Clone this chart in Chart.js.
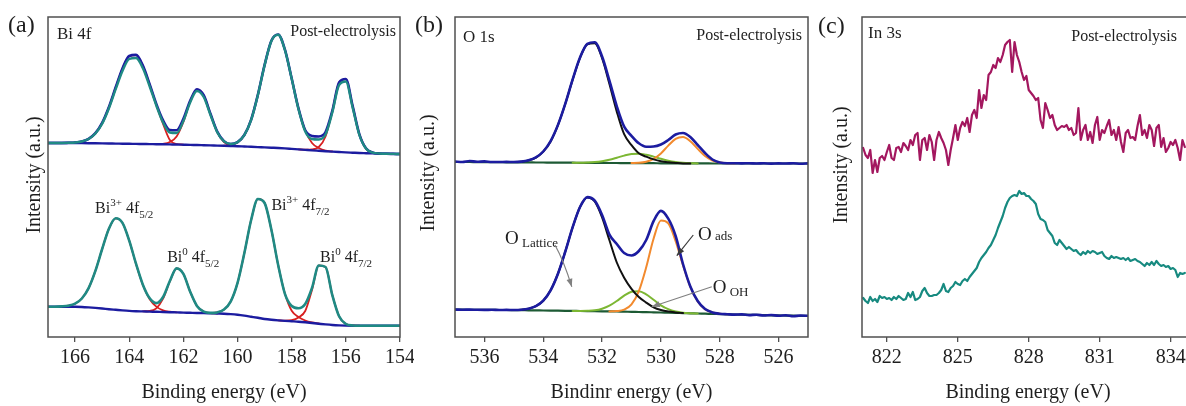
<!DOCTYPE html>
<html>
<head>
<meta charset="utf-8">
<script src="https://cdn.jsdelivr.net/npm/chart.js@4.4.0/dist/chart.umd.min.js"></script>
<style>
  html, body { margin: 0; padding: 0; background: #fff; }
  #wrap { position: relative; width: 1186px; height: 406px; overflow: hidden; }
  canvas { position: absolute; top: 0; }
</style>
</head>
<body>
<div id="wrap">
  <canvas id="chartA" width="414" height="406" style="left:0"></canvas>
  <canvas id="chartB" width="401" height="406" style="left:414px"></canvas>
  <canvas id="chartC" width="371" height="406" style="left:815px"></canvas>
</div>
<script>
// grelha de energias (eixo x de cada painel)
function grid(from, to, step) {
    const n = Math.round(Math.abs(to - from) / step);
    const dir = to < from ? -1 : 1;
    const out = [];
    for (let i = 0; i <= n; i++) out.push(+(from + dir * i * step).toFixed(2));
    return out;
}

// ---------- (a) Bi 4f ----------
const bi4fEnergy = grid(167, 154, 0.25);
const bi4fTicks = [166, 164, 162, 160, 158, 156, 154];

const bi4fTopFit = [194, 194, 194, 194.2, 194.5, 195.5, 198.1, 203.8, 214.1, 230, 249.7, 268.6, 281, 282.1, 271.6,
    253.1, 233.1, 216.6, 207, 206.8, 218.1, 236.2, 247.8, 241.8, 223.2, 205.4, 195.9, 193, 194.9, 202,
    217.1, 242.1, 272.1, 296.3, 302.5, 287.3, 258.5, 228.6, 206.7, 201, 200.5, 205, 226.1, 254.5, 258,
    231.1, 202.7, 188.4, 184.3, 183.5, 183.2, 183.1, 183];
const bi4fTopRaw = [194, 194, 194, 194.2, 194.5, 195.5, 198, 203.5, 213.3, 228.8, 247.8, 266, 278, 279, 269,
    251, 231.5, 214.5, 204.5, 204, 216, 234.5, 246, 240, 222, 204.8, 195.7, 193, 194.8, 201.8,
    216.8, 241.8, 271.8, 296, 302.2, 287, 258.2, 228, 205.5, 198, 197.5, 202.5, 224.5, 252, 255.5,
    229.5, 202, 188.2, 184.3, 183.5, 183.2, 183.1, 183];
const bi4fTopBg = [194, 194, 194, 194, 194, 193.9, 193.8, 193.7, 193.6, 193.5, 193.4, 193.3, 193.2, 193.1, 193,
    192.9, 192.8, 192.7, 192.6, 192.5, 192.3, 192.1, 192, 191.8, 191.6, 191.4, 191.2, 191, 190.8, 190.5,
    190.2, 189.9, 189.6, 189.3, 189, 188.6, 188.1, 187.6, 187.1, 186.6, 186.2, 185.8, 185.4, 185, 184.6,
    184.3, 184, 183.8, 183.6, 183.4, 183.2, 183.1, 183];
// componentes (valor inicial de energia + valores)
const bi4fTopComp1 = [194.5, 195.5, 198, 203.7, 214, 229.9, 249.6, 268.5, 280.8, 281.9, 271.4, 252.8, 232, 213, 197, 193, 192.4];
const bi4fTopComp2 = [192.8, 193.2, 195, 200.5, 215, 235.5, 247.6, 241.6, 223, 205, 195, 191.5, 190.8];
const bi4fTopComp3 = [191.3, 192, 194.5, 201.8, 217, 242, 272, 296.2, 302.4, 287.2, 258.4, 228.5, 206.5, 194, 189, 186.3, 185.5];
const bi4fTopComp4 = [187.6, 187.3, 187.5, 190, 200.5, 226, 254.3, 257.8, 231, 202.7, 188.4, 184.3, 183.5];
const bi4fTopCompStart = [166, 163, 160.5, 157.75];

const bi4fBotFit = [30.3, 30.3, 30.6, 31.3, 33.3, 38.5, 48.9, 66.1, 88, 108.3, 118.7, 114.1, 96.4, 73.3, 52.6,
    38.9, 33.9, 40, 56, 68.6, 63.1, 45.3, 31.1, 25.4, 24.1, 24.6, 27.4, 35.7, 54.1, 83.7,
    116.7, 138, 134, 107.2, 72, 43.2, 31, 28.8, 33, 49, 71.5, 70, 41.9, 20.7, 13,
    11.5, 11.3, 11.3, 11.3, 11.3, 11.3, 11.3, 11.3];
const bi4fBotBg = [30.3, 30.3, 30.3, 30.3, 30.2, 30, 29.6, 29.1, 28.5, 27.8, 27.2, 26.6, 26.1, 25.8, 25.6,
    25.4, 25.2, 25, 24.8, 24.6, 24.4, 24.2, 24, 23.9, 23.7, 23.5, 23.3, 22.9, 22.3, 21.4,
    20.3, 19.2, 18, 17.2, 16.6, 16.1, 15.7, 15.3, 14.7, 14, 13.3, 12.6, 12, 11.6, 11.4,
    11.3, 11.3, 11.3, 11.3, 11.3, 11.3, 11.3, 11.3];
const bi4fBotComp1 = [30.6, 31.3, 33.3, 38.5, 48.9, 66.1, 88, 108.3, 118.7, 114.1, 96.4, 73, 52.2, 38, 30.4, 26.7, 25.3, 24.7];
const bi4fBotComp2 = [25.7, 26, 28.7, 38.3, 55.5, 68.5, 63.1, 45.3, 31.1, 25.4, 23.9, 23.5];
const bi4fBotComp3 = [23.9, 24.6, 27.4, 35.7, 54.1, 83.7, 116.7, 138, 134, 107.2, 72, 43.2, 26.2, 20, 16.5, 14.6, 13.5];
const bi4fBotComp4 = [16.6, 16.3, 16.8, 19.5, 26, 47, 71.5, 70, 41.9, 20.7, 13, 11.5, 11.3];
const bi4fBotCompStart = [166.5, 163.5, 161, 158.5];

// ---------- (b) O 1s ----------
const o1sEnergy = grid(537, 525, 0.25);
const o1sTicks = [536, 534, 532, 530, 528, 526];

const o1sTopFit = [175.5, 175, 176, 175.2, 175.6, 175, 175, 175.1, 175, 175.4, 176.7, 179.6, 185.5, 195.9, 212.1,
    233.4, 257.6, 279.5, 293.1, 294.7, 280.5, 256.3, 230.7, 210.3, 201.2, 193.7, 190.3, 190.5, 192.5, 197,
    202.5, 204, 200, 192, 184, 177.5, 174.5, 173.8, 173.8, 173.6, 173.8, 173.5, 173.7, 173.4, 173.6,
    173.5, 173.7, 173.2, 173.6];
const o1sTopBg = [175, 175, 175, 174.9, 174.9, 174.8, 174.8, 174.7, 174.7, 174.6, 174.6, 174.5, 174.5, 174.4, 174.4,
    174.3, 174.3, 174.2, 174.2, 174.1, 174.1, 174, 174, 173.9, 173.9, 173.8, 173.8, 173.8, 173.7, 173.7,
    173.7, 173.6, 173.6, 173.6, 173.6, 173.5, 173.5, 173.5, 173.5, 173.5, 173.5, 173.5, 173.5, 173.5, 173.5,
    173.5, 173.5, 173.5, 173.5];
const o1sTopLattice = [175, 175, 175, 175.3, 176.6, 179.4, 185.3, 195.6, 211.9, 233.2, 257.4, 279.2, 292.8, 293.7,
    278.8, 253, 225.4, 202.8, 191.9, 183.8, 180.3, 177.6, 175.7, 174.7, 174.1, 173.6, 173.6];
const o1sTopOH = [174.3, 174.3, 174.5, 174.9, 175.8, 177.3, 179.3, 181.4, 183, 183.3, 182.3, 180.4, 178.2, 176.3, 175, 174.2, 173.8, 173.6];
const o1sTopAds = [174, 174.2, 175.3, 178.2, 183.6, 191.4, 198.2, 200, 195.7, 188.1, 181, 176.5, 174.5, 173.8, 173.6];

const o1sBotFit = [27.5, 27.3, 27.4, 27.2, 27.1, 27.2, 27, 27.1, 27.05, 27.3, 28.3, 30.8, 36.3, 46.7, 63.3,
    85.5, 109.8, 130, 139.9, 136.4, 122.1, 102.4, 93, 84, 81.5, 86, 97, 115.8, 126.1, 118.3,
    101, 73, 50.5, 36, 28, 24.6, 23.3, 22.8, 22.4, 22.6, 21.9, 22.3, 21.5, 22, 21.2,
    21.8, 20.8, 21.5, 21.2];
const o1sBotBg = [27.3, 27.3, 27.2, 27.2, 27.1, 27.1, 27, 27, 26.9, 26.8, 26.7, 26.6, 26.5, 26.4, 26.3,
    26.2, 26.1, 26, 25.9, 25.8, 25.7, 25.6, 25.5, 25.3, 25.2, 25, 24.9, 24.7, 24.5, 24.3,
    24.1, 23.9, 23.7, 23.5, 23.3, 23.1, 22.9, 22.7, 22.5, 22.4, 22.2, 22.1, 21.9, 21.7, 21.6,
    21.4, 21.3, 21.1, 21];
const o1sBotLattice = [27, 27, 27.05, 27.3, 28.3, 30.8, 36.3, 46.7, 63.3, 85.5, 109.8, 130, 139.6, 135.5, 119.5,
    96.7, 74.5, 59.3, 48.2, 40, 34.4, 29.7, 27, 25.5, 24.6, 23.9];
const o1sBotOH = [26.1, 26.05, 26.2, 26.7, 28.3, 31.3, 36, 41.3, 45.3, 45.8, 42.6, 37.2, 31.7, 27.8, 25.5, 24.35, 23.8, 23.5];
const o1sBotAds = [25.6, 25.9, 27.3, 32.6, 45.9, 69.7, 98.3, 116.4, 113.6, 95.8, 71.7, 50.1, 35.6, 27.9, 24.6, 23.3, 22.7];
// energia inicial: [lattice, OH, ads] (topo e base)
const o1sTopStart = [535.5, 533, 531];
const o1sBotStart = [535.5, 533, 531.75];

// ---------- (c) In 3s ----------
const in3sEnergy = grid(821, 834.6, 0.1);
const in3sTicks = [822, 825, 828, 831, 834];

const in3sPost = [189, 182, 179, 187, 164, 177, 165, 179, 181, 177,
    185, 192, 179, 177, 189, 190, 185, 194, 191, 187,
    197, 192, 202, 204, 177, 197, 199, 187, 202, 195,
    177, 197, 205, 199, 194, 187, 172, 187, 199, 212,
    197, 209, 215, 211, 219, 205, 222, 227, 219, 247,
    229, 242, 237, 262, 265, 272, 269, 279, 275, 282,
    292, 295, 297, 265, 295, 282, 275, 265, 257, 261,
    247, 244, 241, 237, 239, 217, 209, 234, 227, 219,
    222, 212, 207, 209, 211, 210, 212, 207, 209, 202,
    204, 229, 197, 207, 212, 197, 205, 194, 212, 220,
    197, 207, 204, 211, 217, 202, 207, 197, 210, 195,
    185, 204, 207, 199, 200, 197, 211, 222, 202, 207,
    199, 212, 207, 191, 209, 212, 190, 199, 185, 189,
    195, 192, 197, 189, 177, 197, 190];
const in3sPre = [39, 36, 34, 40, 36, 38, 35, 41, 39, 40,
    38, 39, 37, 40, 38, 41, 39, 37, 38, 44,
    40, 45, 37, 38, 40, 46, 49, 44, 41, 41,
    42, 42, 44, 47, 53, 46, 45, 49, 51, 55,
    53, 52, 56, 58, 56, 60, 63, 66, 69, 75,
    79, 82, 85, 89, 92, 97, 102, 109, 115, 121,
    129, 135, 139, 141, 142, 141, 146, 143, 144, 141,
    141, 138, 136, 133, 123, 118, 117, 115, 107, 104,
    101, 94, 92, 97, 94, 91, 88, 90, 88, 86,
    87, 84, 82, 85, 83, 86, 84, 86, 85, 83,
    84, 85, 81, 79, 78, 81, 79, 80, 79, 78,
    79, 77, 79, 76, 77, 78, 76, 75, 73, 71,
    74, 72, 75, 72, 76, 73, 71, 72, 70, 71,
    68, 69, 67, 60, 64, 63, 64];

// ---------- estilo ----------
const SERIF = '"Liberation Serif", "Times New Roman", serif';
const INK = '#1e1e1e';
const NAVY = '#1c1ca0';
const TEAL = '#1f8a84';
const RED = '#d81f1f';
const BLACK = '#111111';
const ORANGE = '#f28a2e';
const LIME = '#7cb733';
const DKGREEN = '#1d5a34';
const PLUM = '#a3175f';
const TEAL_C = '#178a80';

Chart.defaults.font.family = SERIF;

const pts = (xs, ys) => ys.map((y, i) => ({ x: xs[i], y }));
const seg = (xs, start, ys) => { const k = xs.indexOf(start); return ys.map((y, i) => ({ x: xs[k + i], y })); };

function line(data, color, width, smooth = true) {
    return {
        data, borderColor: color, borderWidth: width, pointRadius: 0, fill: false,
        cubicInterpolationMode: smooth ? 'monotone' : 'default', tension: 0,
        borderJoinStyle: 'round', borderCapStyle: 'round'
    };
}

// helpers de desenho
function P(chart, e, v) { return [chart.scales.x.getPixelForValue(e), chart.scales.y.getPixelForValue(v)]; }
function label(ctx, s, x, y, size, align = 'left') {
    ctx.font = size + 'px ' + SERIF;
    ctx.textAlign = align;
    ctx.fillText(s, x, y);
}
function rich(ctx, x, y, parts) {
    let cx = x;
    ctx.textAlign = 'left';
    parts.forEach(([t, size, dy]) => {
        ctx.font = size + 'px ' + SERIF;
        ctx.fillText(t, cx, y + (dy || 0));
        cx += ctx.measureText(t).width;
    });
}
function vtitle(ctx, s, x, y) {
    ctx.save();
    ctx.translate(x, y);
    ctx.rotate(-Math.PI / 2);
    ctx.textAlign = 'center';
    ctx.textBaseline = 'middle';
    ctx.font = '20px ' + SERIF;
    ctx.fillText(s, 0, 0);
    ctx.restore();
}
function arrow(ctx, a, b, c, color, width) {
    // a -> c, curva por b, cabeça em c
    ctx.save();
    ctx.strokeStyle = color; ctx.fillStyle = color; ctx.lineWidth = width;
    ctx.beginPath();
    ctx.moveTo(a[0], a[1]);
    if (b) ctx.quadraticCurveTo(b[0], b[1], c[0], c[1]); else ctx.lineTo(c[0], c[1]);
    ctx.stroke();
    const from = b || a;
    const ang = Math.atan2(c[1] - from[1], c[0] - from[0]);
    const L = 8, W = 3;
    ctx.beginPath();
    ctx.moveTo(c[0], c[1]);
    ctx.lineTo(c[0] - L * Math.cos(ang) + W * Math.sin(ang), c[1] - L * Math.sin(ang) - W * Math.cos(ang));
    ctx.lineTo(c[0] - L * Math.cos(ang) - W * Math.sin(ang), c[1] - L * Math.sin(ang) + W * Math.cos(ang));
    ctx.closePath();
    ctx.fill();
    ctx.restore();
}
function frame(chart, noRight) {
    const { ctx, chartArea: a } = chart;
    ctx.save();
    ctx.strokeStyle = '#505050';
    ctx.lineWidth = 1.5;
    ctx.beginPath();
    if (noRight) {
        ctx.moveTo(a.right + 2, a.top); ctx.lineTo(a.left, a.top);
        ctx.lineTo(a.left, a.bottom); ctx.lineTo(a.right + 2, a.bottom);
    } else {
        ctx.rect(a.left, a.top, a.right - a.left, a.bottom - a.top);
    }
    ctx.stroke();
    ctx.restore();
}

function makeChart(id, cfg) {
    const datasets = cfg.datasets.map((d, i, all) => Object.assign({ order: all.length - i }, d));
    return new Chart(document.getElementById(id), {
        type: 'line',
        data: { datasets },
        options: {
            responsive: false,
            animation: false,
            events: [],
            layout: { padding: { left: cfg.padLeft, right: cfg.padRight, top: 17, bottom: 0 } },
            plugins: { legend: { display: false }, tooltip: { enabled: false } },
            scales: {
                x: {
                    type: 'linear', min: cfg.min, max: cfg.max, reverse: cfg.reverse,
                    afterBuildTicks: s => { s.ticks = cfg.ticks.map(v => ({ value: v })); },
                    afterFit: s => { s.height = 69; s.paddingLeft = 0; s.paddingRight = 0; },
                    border: { display: false },
                    grid: { display: true, drawOnChartArea: false, drawTicks: true, tickLength: 5, color: '#505050', lineWidth: 1.3 },
                    ticks: { color: INK, padding: 4, font: { family: SERIF, size: 20 }, maxRotation: 0, autoSkip: false }
                },
                y: { display: false, min: 0, max: 320 }
            }
        },
        plugins: [{
            id: 'deco',
            afterDatasetsDraw(chart) {
                frame(chart, cfg.noRight);
                const ctx = chart.ctx;
                ctx.save();
                ctx.fillStyle = INK;
                ctx.textBaseline = 'alphabetic';
                cfg.draw(chart, ctx);
                ctx.restore();
            }
        }]
    });
}

// ---------- painel (a) ----------
const E = bi4fEnergy;
makeChart('chartA', {
    min: 154, max: 167, reverse: true, ticks: bi4fTicks, padLeft: 48, padRight: 14,
    datasets: [
        line(seg(E, bi4fTopCompStart[0], bi4fTopComp1), RED, 1.8),
        line(seg(E, bi4fTopCompStart[1], bi4fTopComp2), RED, 1.8),
        line(seg(E, bi4fTopCompStart[2], bi4fTopComp3), RED, 1.8),
        line(seg(E, bi4fTopCompStart[3], bi4fTopComp4), RED, 1.8),
        line(pts(E, bi4fTopBg), NAVY, 2.4),
        line(pts(E, bi4fTopFit), NAVY, 2.6),
        line(pts(E, bi4fTopRaw), TEAL, 2.4),
        line(seg(E, bi4fBotCompStart[0], bi4fBotComp1), RED, 1.8),
        line(seg(E, bi4fBotCompStart[1], bi4fBotComp2), RED, 1.8),
        line(seg(E, bi4fBotCompStart[2], bi4fBotComp3), RED, 1.8),
        line(seg(E, bi4fBotCompStart[3], bi4fBotComp4), RED, 1.8),
        line(pts(E, bi4fBotBg), NAVY, 2.4),
        line(pts(E, bi4fBotFit), TEAL, 2.6)
    ],
    draw(chart, ctx) {
        label(ctx, '(a)', 8, 32, 24);
        label(ctx, 'Bi 4f', 57, 39, 17);
        label(ctx, 'Post-electrolysis', 396, 36, 16, 'right');
        vtitle(ctx, 'Intensity (a.u.)', 35, 175);
        label(ctx, 'Binding energy (eV)', 224, 398, 20, 'center');
        const notes = [
            [165.26, 123.7, [['Bi', 16], ['3+', 11, -7], [' 4f', 16], ['5/2', 11, 5]]],
            [162.6, 75.3, [['Bi', 16], ['0', 11, -7], [' 4f', 16], ['5/2', 11, 5]]],
            [158.75, 127, [['Bi', 16], ['3+', 11, -7], [' 4f', 16], ['7/2', 11, 5]]],
            [156.95, 75.3, [['Bi', 16], ['0', 11, -7], [' 4f', 16], ['7/2', 11, 5]]]
        ];
        notes.forEach(([e, v, parts]) => { const [x, y] = P(chart, e, v); rich(ctx, x, y, parts); });
    }
});

// ---------- painel (b) ----------
const F = o1sEnergy;
makeChart('chartB', {
    min: 525, max: 537, reverse: true, ticks: o1sTicks, padLeft: 41, padRight: 7,
    datasets: [
        line(pts(F, o1sTopBg), DKGREEN, 2.2),
        line(seg(F, o1sTopStart[1], o1sTopOH), LIME, 2),
        line(seg(F, o1sTopStart[2], o1sTopAds), ORANGE, 2),
        line(seg(F, o1sTopStart[0], o1sTopLattice), BLACK, 2),
        line(pts(F, o1sTopFit), NAVY, 2.6),
        line(pts(F, o1sBotBg), DKGREEN, 2.2),
        line(seg(F, o1sBotStart[1], o1sBotOH), LIME, 2),
        line(seg(F, o1sBotStart[2], o1sBotAds), ORANGE, 2),
        line(seg(F, o1sBotStart[0], o1sBotLattice), BLACK, 2),
        line(pts(F, o1sBotFit), NAVY, 2.6)
    ],
    draw(chart, ctx) {
        label(ctx, '(b)', 1, 32, 24);
        label(ctx, 'O 1s', 49, 42, 17);
        label(ctx, 'Post-electrolysis', 388, 40, 16, 'right');
        vtitle(ctx, 'Intensity (a.u.)', 15, 173);
        label(ctx, 'Bindinr energy (eV)', 217.5, 398, 20, 'center');

        let [x, y] = P(chart, 535.3, 93);
        rich(ctx, x, y, [['O', 19], [' Lattice', 13, 3]]);
        [x, y] = P(chart, 528.74, 97);
        rich(ctx, x, y, [['O', 19], [' ads', 13, 0]]);
        [x, y] = P(chart, 528.24, 44);
        rich(ctx, x, y, [['O', 19], [' OH', 13, 3]]);

        arrow(ctx, P(chart, 533.6, 92), P(chart, 533.3, 76), P(chart, 533.03, 50.3), '#808080', 1.2);
        arrow(ctx, P(chart, 528.9, 102), null, P(chart, 529.46, 81.3), '#3a3a3a', 1.2);
        arrow(ctx, P(chart, 528.27, 50.3), null, P(chart, 530.31, 30.3), '#808080', 1.2);
    }
});

// ---------- painel (c) ----------
const G = in3sEnergy;
makeChart('chartC', {
    min: 820.95, max: 834.65, reverse: false, ticks: in3sTicks, padLeft: 47, padRight: 0, noRight: true,
    datasets: [
        line(pts(G, in3sPre), TEAL_C, 2.2, false),
        line(pts(G, in3sPost), PLUM, 2.2, false)
    ],
    draw(chart, ctx) {
        label(ctx, '(c)', 3, 33, 24);
        label(ctx, 'In 3s', 53, 38, 17);
        label(ctx, 'Post-electrolysis', 362, 41, 16, 'right');
        vtitle(ctx, 'Intensity (a.u.)', 27, 165);
        label(ctx, 'Binding energy (eV)', 213, 398, 20, 'center');
    }
});
</script>
</body>
</html>
